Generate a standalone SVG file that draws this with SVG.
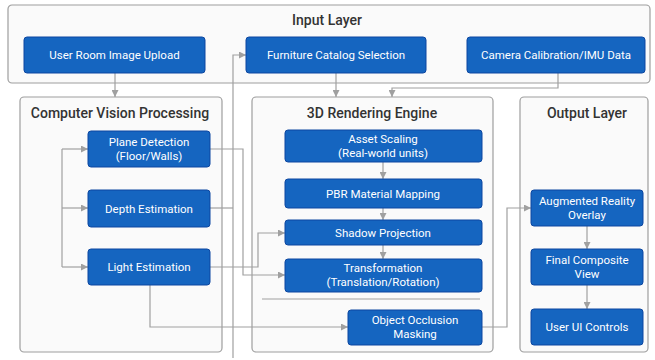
<svg xmlns="http://www.w3.org/2000/svg" width="655" height="360" viewBox="0 0 655 360">
<defs>
<style>
.cont{fill:#fafafa;stroke:#9e9e9e;stroke-width:1.2}
.ctitle{font-family:Roboto,"Liberation Sans",sans-serif;font-size:14px;font-weight:500;fill:#333;text-anchor:middle}
.node{fill:#1565c0;stroke:#0d47a1;stroke-width:1}
.nt{font-family:Roboto,"Liberation Sans",sans-serif;font-size:11.5px;fill:#fff;text-anchor:middle}
.edge{fill:none;stroke:#a0a0a0;stroke-width:1.2}
.arr{marker-end:url(#ah)}
</style>
<marker id="ah" viewBox="0 0 8 8" refX="8" refY="4" markerWidth="7" markerHeight="7" markerUnits="userSpaceOnUse" orient="auto">
<path d="M0,0 L8,4 L0,8 z" fill="#a0a0a0"/>
</marker>
</defs>
<rect width="655" height="360" fill="#fff"/>

<g id="input-layer">
<rect class="cont" x="8" y="5" width="642" height="78" rx="4"/>
<text class="ctitle" x="327" y="25">Input Layer</text>
</g>
<g id="cv-processing">
<rect class="cont" x="20" y="97" width="202" height="255" rx="4"/>
<text class="ctitle" x="120" y="118">Computer Vision Processing</text>
</g>
<g id="rendering-engine">
<rect class="cont" x="252" y="97" width="241" height="255" rx="4"/>
<text class="ctitle" x="372" y="118">3D Rendering Engine</text>
</g>
<g id="output-layer">
<rect class="cont" x="520" y="97" width="128" height="255" rx="4"/>
<text class="ctitle" x="587" y="118">Output Layer</text>
</g>

<g id="connectors">
<path class="edge arr" d="M115,73 V97"/>
<path class="edge arr" d="M336,73 V97"/>
<path class="edge arr" d="M558,73 V88 H392 V97"/>
<path class="edge" d="M62,149 V267"/>
<path class="edge arr" d="M62,149 H88"/>
<path class="edge arr" d="M62,208 H88"/>
<path class="edge arr" d="M62,267 H88"/>
<path class="edge arr" d="M233,358 V55 H246"/>
<path class="edge" d="M210,208 H233"/>
<path class="edge arr" d="M210,149 H243 V275 H285"/>
<path class="edge arr" d="M210,267 H258 V233 H285"/>
<path class="edge arr" d="M150,285 V327 H348"/>
<path class="edge arr" d="M482,327 H507 V208 H531"/>
<path class="edge arr" d="M383,162 V179"/>
<path class="edge arr" d="M383,208 V220"/>
<path class="edge arr" d="M383,245 V259"/>
<path class="edge arr" d="M587,226 V249"/>
<path class="edge arr" d="M587,285 V309"/>
<path class="edge" d="M262,299 H480"/>
</g>

<g id="user-room-image-upload">
<rect class="node" x="24" y="37" width="181" height="36" rx="3"/>
<text class="nt" x="114.5" y="59">User Room Image Upload</text>
</g>
<g id="furniture-catalog-selection">
<rect class="node" x="246" y="37" width="180" height="36" rx="3"/>
<text class="nt" x="336" y="59">Furniture Catalog Selection</text>
</g>
<g id="camera-calibration">
<rect class="node" x="467" y="37" width="178" height="36" rx="3"/>
<text class="nt" x="556" y="59">Camera Calibration/IMU Data</text>
</g>

<g id="plane-detection">
<rect class="node" x="88" y="131" width="122" height="36" rx="3"/>
<text class="nt" x="149" y="146">Plane Detection</text>
<text class="nt" x="149" y="160">(Floor/Walls)</text>
</g>
<g id="depth-estimation">
<rect class="node" x="88" y="190" width="122" height="37" rx="3"/>
<text class="nt" x="149" y="212.5">Depth Estimation</text>
</g>
<g id="light-estimation">
<rect class="node" x="88" y="249" width="122" height="36" rx="3"/>
<text class="nt" x="149" y="271">Light Estimation</text>
</g>

<g id="asset-scaling">
<rect class="node" x="285" y="130" width="197" height="32" rx="3"/>
<text class="nt" x="383" y="143">Asset Scaling</text>
<text class="nt" x="383" y="157">(Real-world units)</text>
</g>
<g id="pbr-material-mapping">
<rect class="node" x="285" y="179" width="197" height="29" rx="3"/>
<text class="nt" x="383" y="197.5">PBR Material Mapping</text>
</g>
<g id="shadow-projection">
<rect class="node" x="285" y="220" width="197" height="25" rx="3"/>
<text class="nt" x="383" y="236.5">Shadow Projection</text>
</g>
<g id="transformation">
<rect class="node" x="285" y="259" width="197" height="33" rx="3"/>
<text class="nt" x="383" y="272">Transformation</text>
<text class="nt" x="383" y="286">(Translation/Rotation)</text>
</g>
<g id="object-occlusion-masking">
<rect class="node" x="348" y="310" width="134" height="35" rx="3"/>
<text class="nt" x="415" y="324">Object Occlusion</text>
<text class="nt" x="415" y="338">Masking</text>
</g>

<g id="ar-overlay">
<rect class="node" x="531" y="190" width="112" height="36" rx="3"/>
<text class="nt" x="587" y="205">Augmented Reality</text>
<text class="nt" x="587" y="219">Overlay</text>
</g>
<g id="final-composite-view">
<rect class="node" x="531" y="249" width="112" height="36" rx="3"/>
<text class="nt" x="587" y="264">Final Composite</text>
<text class="nt" x="587" y="278">View</text>
</g>
<g id="user-ui-controls">
<rect class="node" x="531" y="309" width="112" height="36" rx="3"/>
<text class="nt" x="587" y="331">User UI Controls</text>
</g>
</svg>
